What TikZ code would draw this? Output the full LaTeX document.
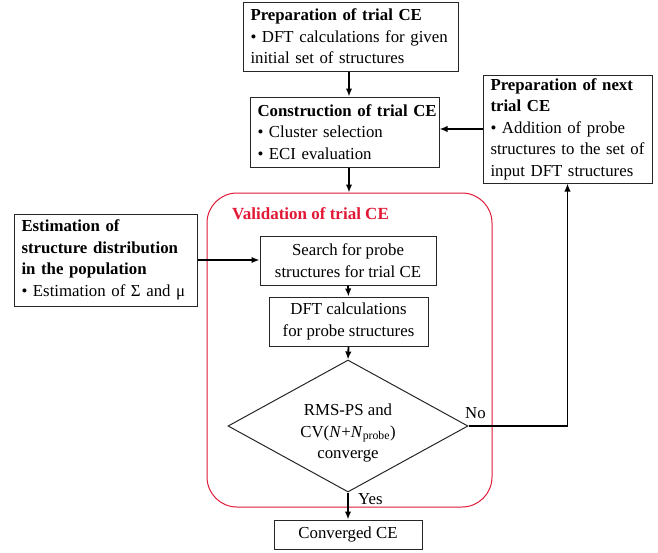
\documentclass[tikz,border=0pt]{standalone}
\usepackage{fontspec}
\setmainfont{Liberation Serif}
\usetikzlibrary{shapes.geometric,arrows.meta}
\definecolor{valred}{RGB}{225,25,55}
\hfuzz=50pt
\begin{document}
\begin{tikzpicture}[x=1pt,y=-1pt,
  font=\fontsize{16.8}{21.5}\selectfont,
  box/.style={draw=black!85,line width=1pt,inner sep=0pt,align=center},
  lbox/.style={draw=black!85,line width=1pt,inner xsep=7.5pt,inner ysep=0pt,align=left},
  arr/.style={line width=1.8pt,-{Latex[length=8pt,width=6.5pt]}},
  lab/.style={inner sep=0pt}]
\useasboundingbox (0,0) rectangle (658,552);
\node[draw=valred,line width=1pt,rounded corners=30pt,minimum width=285pt,minimum height=314pt,inner sep=0pt] (val) at (349.5,350) {};
\node[lab,anchor=base west,text=valred,font=\fontsize{17}{20}\selectfont\bfseries] (valt) at (232,219) {Validation of trial CE};
\node[lbox,minimum width=215pt,minimum height=69pt,text width=200pt] (prep) at (350.5,36.5)
  {\mbox{\textbf{Preparation of trial CE}}\\\mbox{\textbullet\ DFT calculations for given}\\\mbox{initial set of structures}};
\node[lbox,minimum width=189pt,minimum height=70pt,text width=174pt] (cons) at (344.5,132)
  {\mbox{\textbf{Construction of trial CE}}\\\mbox{\textbullet\ Cluster selection}\\\mbox{\textbullet\ ECI evaluation}};
\node[lbox,minimum width=169pt,minimum height=108pt,text width=154pt] (next) at (567.5,129)
  {\mbox{\textbf{Preparation of next}}\\\mbox{\textbf{trial CE}}\\\mbox{\textbullet\ Addition of probe}\\\mbox{structures to the set of}\\\mbox{input DFT structures}};
\node[lbox,minimum width=183pt,minimum height=92pt,text width=168pt] (est) at (105.5,260)
  {\mbox{\textbf{Estimation of}}\\\mbox{\textbf{structure distribution}}\\\mbox{\textbf{in the population}}\\\mbox{\textbullet\ Estimation of Σ and μ}};
\node[box,minimum width=176pt,minimum height=49pt] (search) at (348,260.5)
  {Search for probe\\structures for trial CE};
\node[box,minimum width=159pt,minimum height=49pt] (dft) at (348.5,321.5)
  {DFT calculations\\for probe structures};
\node[draw=black!85,line width=1pt,diamond,minimum width=240pt,minimum height=132pt,inner sep=0pt] (dia) at (348,426) {};
\node[lab,align=center] (diat) at (348,433)
  {RMS-PS and\\CV(\textit{N}+\textit{N}\textsubscript{probe})\\converge};
\node[box,minimum width=148pt,minimum height=29pt] (conv) at (348,534.5) {Converged CE};
\coordinate (cx) at (349,0);
\draw[arr] (prep.south -| cx) -- (cons.north -| cx);
\draw[arr] (cons.south -| cx) -- (val.north -| cx);
\draw[arr] (search.south) -- (dft.north);
\draw[arr] (dft.south) -- (dia.north);
\draw[arr] (dia.south) -- (conv.north);
\draw[arr] (next.west) -- (cons.east |- next.west);
\draw[arr] (est.east) -- (search.west |- est.east);
\draw[arr] (dia.east) -| (next.south);
\node[lab,anchor=base west] (no) at (465,418) {No};
\node[lab,anchor=base west] (yes) at (358,504) {Yes};
\end{tikzpicture}
\end{document}
